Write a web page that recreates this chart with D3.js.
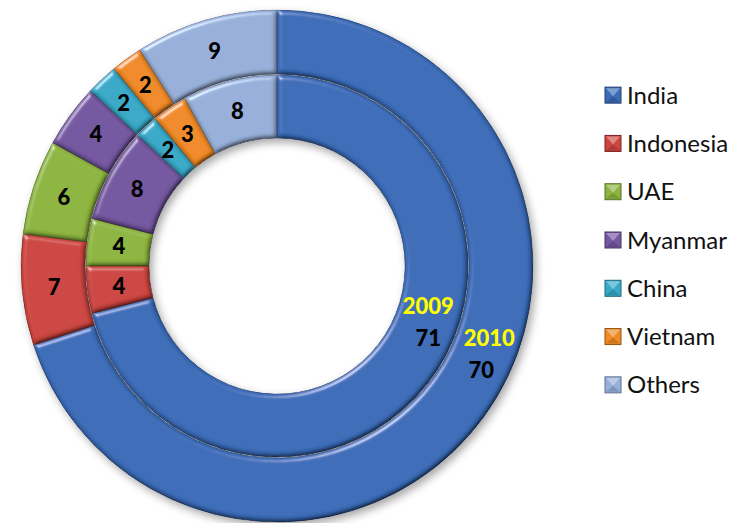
<!DOCTYPE html>
<html>
  <head>
    <title>Doughnut 2009 / 2010</title>
    <script src="https://d3js.org/d3.v7.min.js"></script>
    <style>
      body { margin: 0; background: #fff; }
      .lbl { font-family: Lato, "Noto Sans", sans-serif; font-weight: 900; font-size: 22px; }
      .legend text { font-family: Lato, "Open Sans", sans-serif; font-size: 24px; fill: #111; }
    </style>
  </head>
  <body>
    <script>
      var width = 734;
      var height = 523;

      var categories = ["India", "Indonesia", "UAE", "Myanmar", "China", "Vietnam", "Others"];
      var values2009 = [71, 4, 4, 8, 2, 3, 8];
      var values2010 = [70, 7, 6, 4, 2, 2, 9];
      var seriesNames = ["2009", "2010"];
      var colors = ["#3b6cb8", "#cc4540", "#8db43e", "#7457a0", "#38a9c8", "#f08a25", "#97b0d9"];
      var strokes = ["#1f3f70", "#7a2421", "#56702a", "#46335f", "#1e6679", "#95520f", "#5a6f94"];

      var cx = 277, cy = 266;
      var rings = [
        {name: seriesNames[0], values: values2009, inner: 128, outer: 191, at: 0.432, shift: 0},
        {name: seriesNames[1], values: values2010, inner: 192, outer: 256, at: 0.448, shift: 4}
      ];

      var svg = d3.select("body")
        .append("svg")
        .attr("width", width)
        .attr("height", height);

      var defs = svg.append("defs");

      var shadow = defs.append("filter").attr("id", "shadow")
        .attr("x", "-10%").attr("y", "-10%").attr("width", "125%").attr("height", "125%");
      shadow.append("feDropShadow")
        .attr("dx", 3).attr("dy", 4).attr("stdDeviation", 4)
        .attr("flood-color", "#000").attr("flood-opacity", 0.35);

      // fake excel bevel: highlight on lit edges, darken the others
      var bevel = defs.append("filter").attr("id", "bevel");
      bevel.append("feGaussianBlur").attr("in", "SourceAlpha").attr("stdDeviation", 2.5).attr("result", "blur");
      var spec = bevel.append("feSpecularLighting")
        .attr("in", "blur").attr("surfaceScale", 4).attr("specularConstant", 0.5)
        .attr("specularExponent", 30).attr("lighting-color", "#ffffff").attr("result", "spec");
      spec.append("feDistantLight").attr("azimuth", 235).attr("elevation", 30);
      bevel.append("feComposite").attr("in", "spec").attr("in2", "SourceAlpha")
        .attr("operator", "in").attr("result", "specOut");
      var diff = bevel.append("feDiffuseLighting")
        .attr("in", "blur").attr("surfaceScale", 4).attr("diffuseConstant", 1.15)
        .attr("lighting-color", "#ffffff").attr("result", "diff");
      diff.append("feDistantLight").attr("azimuth", 235).attr("elevation", 60);
      bevel.append("feComposite").attr("in", "SourceGraphic").attr("in2", "diff")
        .attr("operator", "arithmetic").attr("k1", 1).attr("k2", 0).attr("k3", 0).attr("k4", 0)
        .attr("result", "shaded");
      bevel.append("feComposite").attr("in", "shaded").attr("in2", "specOut")
        .attr("operator", "arithmetic").attr("k1", 0).attr("k2", 1).attr("k3", 1).attr("k4", 0)
        .attr("result", "lit");
      bevel.append("feComposite").attr("in", "lit").attr("in2", "SourceAlpha").attr("operator", "in");

      var pie = d3.pie().sort(null).value(function(d) { return d; });

      var chart = svg.append("g")
        .attr("transform", `translate(${cx},${cy})`)
        .attr("filter", "url(#shadow)");

      rings.forEach(function(ring) {
        var arc = d3.arc().innerRadius(ring.inner).outerRadius(ring.outer);
        var slices = pie(ring.values);

        chart.append("g").selectAll("path")
          .data(slices)
          .enter()
          .append("path")
            .attr("d", arc)
            .attr("fill", function(d, i) { return colors[i]; })
            .attr("stroke", function(d, i) { return strokes[i]; })
            .attr("stroke-width", 0.8)
            .attr("filter", "url(#bevel)");
      });

      var labels = svg.append("g").attr("transform", `translate(${cx},${cy})`);

      rings.forEach(function(ring) {
        var mid = (ring.inner + ring.outer) / 2;
        var labelArc = d3.arc().innerRadius(mid).outerRadius(mid);
        var slices = pie(ring.values);

        slices.forEach(function(d, i) {
          if (i === 0) {
            // big India label: moved toward the start of the slice, with the series name
            var a = d.startAngle + (d.endAngle - d.startAngle) * ring.at;
            var r = mid + 2;
            var x = Math.sin(a) * r, y = -Math.cos(a) * r;
            labels.append("text").attr("class", "lbl")
              .attr("x", x + ring.shift).attr("y", y - 16)
              .attr("dy", "0.36em")
              .attr("text-anchor", "middle")
              .attr("fill", "#ffff00")
              .text(ring.name);
            labels.append("text").attr("class", "lbl")
              .attr("x", x - ring.shift).attr("y", y + 16)
              .attr("dy", "0.36em")
              .attr("text-anchor", "middle")
              .attr("fill", "#000")
              .text(d.data);
          } else {
            var c = labelArc.centroid(d);
            labels.append("text").attr("class", "lbl")
              .attr("x", c[0]).attr("y", c[1])
              .attr("dy", "0.36em")
              .attr("text-anchor", "middle")
              .attr("fill", "#000")
              .text(d.data);
          }
        });
      });

      var legendY = d3.scaleBand()
        .domain(categories)
        .range([71, 409]);

      var legend = svg.append("g").attr("class", "legend");

      var item = legend.selectAll("g")
        .data(categories)
        .enter()
        .append("g")
          .attr("transform", function(d) { return `translate(605,${legendY(d) + legendY.bandwidth() / 2})`; });

      item.append("rect")
        .attr("x", 0).attr("y", -8)
        .attr("width", 16).attr("height", 16)
        .attr("fill", function(d, i) { return colors[i]; })
        .attr("stroke", function(d, i) { return strokes[i]; })
        .attr("stroke-width", 1);

      item.append("path")
        .attr("d", "M1,-7 L8,1 L15,-7 Z")
        .attr("fill", "#fff")
        .attr("opacity", 0.35);

      item.append("path")
        .attr("d", "M1,7 L8,1 L15,7 Z")
        .attr("fill", "#000")
        .attr("opacity", 0.15);

      item.append("text")
        .attr("x", 22)
        .attr("dy", "0.36em")
        .text(function(d) { return d; });
    </script>
  </body>
</html>
